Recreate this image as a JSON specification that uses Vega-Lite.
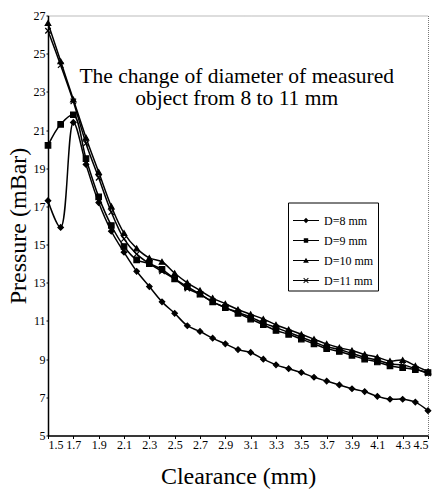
{
  "$schema": "https://vega.github.io/schema/vega-lite/v6.json",
  "width": 380,
  "height": 420,
  "autosize": "none",
  "padding": {"left": 48, "top": 15.5, "right": 12, "bottom": 60.5},
  "background": "white",
  "config": {
    "font": "Liberation Serif",
    "view": {"stroke": "#777", "strokeDash": [1, 1], "strokeWidth": 1}
  },
  "datasets": {
    "curves": [
    {"c":1.5,"p":17.3,"s":"D=8 mm"},{"c":1.6,"p":15.9,"s":"D=8 mm"},{"c":1.7,"p":21.4,"s":"D=8 mm"},{"c":1.8,"p":19.2,"s":"D=8 mm"},{"c":1.9,"p":17.2,"s":"D=8 mm"},{"c":2.0,"p":15.7,"s":"D=8 mm"},{"c":2.1,"p":14.6,"s":"D=8 mm"},{"c":2.2,"p":13.6,"s":"D=8 mm"},{"c":2.3,"p":12.8,"s":"D=8 mm"},{"c":2.4,"p":12.0,"s":"D=8 mm"},{"c":2.5,"p":11.4,"s":"D=8 mm"},{"c":2.6,"p":10.75,"s":"D=8 mm"},{"c":2.7,"p":10.45,"s":"D=8 mm"},{"c":2.8,"p":10.1,"s":"D=8 mm"},{"c":2.9,"p":9.8,"s":"D=8 mm"},{"c":3.0,"p":9.5,"s":"D=8 mm"},{"c":3.1,"p":9.35,"s":"D=8 mm"},{"c":3.2,"p":9.0,"s":"D=8 mm"},{"c":3.3,"p":8.7,"s":"D=8 mm"},{"c":3.4,"p":8.5,"s":"D=8 mm"},{"c":3.5,"p":8.3,"s":"D=8 mm"},{"c":3.6,"p":8.05,"s":"D=8 mm"},{"c":3.7,"p":7.85,"s":"D=8 mm"},{"c":3.8,"p":7.65,"s":"D=8 mm"},{"c":3.9,"p":7.45,"s":"D=8 mm"},{"c":4.0,"p":7.3,"s":"D=8 mm"},{"c":4.1,"p":7.05,"s":"D=8 mm"},{"c":4.2,"p":6.9,"s":"D=8 mm"},{"c":4.3,"p":6.9,"s":"D=8 mm"},{"c":4.4,"p":6.75,"s":"D=8 mm"},{"c":4.5,"p":6.3,"s":"D=8 mm"},
    {"c":1.5,"p":20.2,"s":"D=9 mm"},{"c":1.6,"p":21.3,"s":"D=9 mm"},{"c":1.7,"p":21.8,"s":"D=9 mm"},{"c":1.8,"p":19.5,"s":"D=9 mm"},{"c":1.9,"p":17.5,"s":"D=9 mm"},{"c":2.0,"p":16.0,"s":"D=9 mm"},{"c":2.1,"p":14.9,"s":"D=9 mm"},{"c":2.2,"p":14.2,"s":"D=9 mm"},{"c":2.3,"p":14.0,"s":"D=9 mm"},{"c":2.4,"p":13.7,"s":"D=9 mm"},{"c":2.5,"p":13.2,"s":"D=9 mm"},{"c":2.6,"p":12.8,"s":"D=9 mm"},{"c":2.7,"p":12.4,"s":"D=9 mm"},{"c":2.8,"p":12.0,"s":"D=9 mm"},{"c":2.9,"p":11.7,"s":"D=9 mm"},{"c":3.0,"p":11.4,"s":"D=9 mm"},{"c":3.1,"p":11.1,"s":"D=9 mm"},{"c":3.2,"p":10.8,"s":"D=9 mm"},{"c":3.3,"p":10.5,"s":"D=9 mm"},{"c":3.4,"p":10.3,"s":"D=9 mm"},{"c":3.5,"p":10.05,"s":"D=9 mm"},{"c":3.6,"p":9.8,"s":"D=9 mm"},{"c":3.7,"p":9.55,"s":"D=9 mm"},{"c":3.8,"p":9.4,"s":"D=9 mm"},{"c":3.9,"p":9.2,"s":"D=9 mm"},{"c":4.0,"p":9.0,"s":"D=9 mm"},{"c":4.1,"p":8.85,"s":"D=9 mm"},{"c":4.2,"p":8.65,"s":"D=9 mm"},{"c":4.3,"p":8.55,"s":"D=9 mm"},{"c":4.4,"p":8.45,"s":"D=9 mm"},{"c":4.5,"p":8.3,"s":"D=9 mm"},
    {"c":1.5,"p":26.6,"s":"D=10 mm"},{"c":1.6,"p":24.6,"s":"D=10 mm"},{"c":1.7,"p":22.6,"s":"D=10 mm"},{"c":1.8,"p":20.6,"s":"D=10 mm"},{"c":1.9,"p":18.8,"s":"D=10 mm"},{"c":2.0,"p":17.0,"s":"D=10 mm"},{"c":2.1,"p":15.6,"s":"D=10 mm"},{"c":2.2,"p":14.8,"s":"D=10 mm"},{"c":2.3,"p":14.3,"s":"D=10 mm"},{"c":2.4,"p":14.1,"s":"D=10 mm"},{"c":2.5,"p":13.5,"s":"D=10 mm"},{"c":2.6,"p":13.0,"s":"D=10 mm"},{"c":2.7,"p":12.6,"s":"D=10 mm"},{"c":2.8,"p":12.2,"s":"D=10 mm"},{"c":2.9,"p":11.9,"s":"D=10 mm"},{"c":3.0,"p":11.6,"s":"D=10 mm"},{"c":3.1,"p":11.35,"s":"D=10 mm"},{"c":3.2,"p":11.1,"s":"D=10 mm"},{"c":3.3,"p":10.8,"s":"D=10 mm"},{"c":3.4,"p":10.55,"s":"D=10 mm"},{"c":3.5,"p":10.3,"s":"D=10 mm"},{"c":3.6,"p":10.05,"s":"D=10 mm"},{"c":3.7,"p":9.8,"s":"D=10 mm"},{"c":3.8,"p":9.6,"s":"D=10 mm"},{"c":3.9,"p":9.45,"s":"D=10 mm"},{"c":4.0,"p":9.25,"s":"D=10 mm"},{"c":4.1,"p":9.1,"s":"D=10 mm"},{"c":4.2,"p":8.9,"s":"D=10 mm"},{"c":4.3,"p":8.95,"s":"D=10 mm"},{"c":4.4,"p":8.65,"s":"D=10 mm"},{"c":4.5,"p":8.35,"s":"D=10 mm"},
    {"c":1.5,"p":26.2,"s":"D=11 mm"},{"c":1.6,"p":24.4,"s":"D=11 mm"},{"c":1.7,"p":22.5,"s":"D=11 mm"},{"c":1.8,"p":20.3,"s":"D=11 mm"},{"c":1.9,"p":18.5,"s":"D=11 mm"},{"c":2.0,"p":16.7,"s":"D=11 mm"},{"c":2.1,"p":15.3,"s":"D=11 mm"},{"c":2.2,"p":14.5,"s":"D=11 mm"},{"c":2.3,"p":14.0,"s":"D=11 mm"},{"c":2.4,"p":13.6,"s":"D=11 mm"},{"c":2.5,"p":13.2,"s":"D=11 mm"},{"c":2.6,"p":12.7,"s":"D=11 mm"},{"c":2.7,"p":12.4,"s":"D=11 mm"},{"c":2.8,"p":12.0,"s":"D=11 mm"},{"c":2.9,"p":11.7,"s":"D=11 mm"},{"c":3.0,"p":11.45,"s":"D=11 mm"},{"c":3.1,"p":11.2,"s":"D=11 mm"},{"c":3.2,"p":10.9,"s":"D=11 mm"},{"c":3.3,"p":10.65,"s":"D=11 mm"},{"c":3.4,"p":10.4,"s":"D=11 mm"},{"c":3.5,"p":10.15,"s":"D=11 mm"},{"c":3.6,"p":9.9,"s":"D=11 mm"},{"c":3.7,"p":9.65,"s":"D=11 mm"},{"c":3.8,"p":9.5,"s":"D=11 mm"},{"c":3.9,"p":9.3,"s":"D=11 mm"},{"c":4.0,"p":9.1,"s":"D=11 mm"},{"c":4.1,"p":8.95,"s":"D=11 mm"},{"c":4.2,"p":8.75,"s":"D=11 mm"},{"c":4.3,"p":8.7,"s":"D=11 mm"},{"c":4.4,"p":8.5,"s":"D=11 mm"},{"c":4.5,"p":8.25,"s":"D=11 mm"}
    ]
  },
  "data": {"name": "curves"},
  "encoding": {
    "x": {"field": "c", "type": "quantitative", "title": "Clearance (mm)",
      "scale": {"domain": [1.5, 4.5], "nice": false, "zero": false},
      "axis": {"values": [1.5,1.7,1.9,2.1,2.3,2.5,2.7,2.9,3.1,3.3,3.5,3.7,3.9,4.1,4.3,4.5], "format": ".1f", "grid": false, "labelOverlap": false,
        "domainColor": "black", "domainWidth": 1.5, "tickColor": "black", "tickSize": 3,
        "labelFont": "Liberation Serif", "labelFontSize": 12, "labelColor": "black", "labelPadding": 1,
        "titleFont": "Liberation Serif", "titleFontSize": 24, "titleFontWeight": "normal", "titleColor": "black", "titlePadding": 14}},
    "y": {"field": "p", "type": "quantitative", "title": "Pressure (mBar)",
      "scale": {"domain": [5, 27], "nice": false, "zero": false},
      "axis": {"values": [5,7,9,11,13,15,17,19,21,23,25,27], "grid": false, "labelOverlap": false,
        "domainColor": "black", "domainWidth": 1.5, "tickColor": "black", "tickSize": 2,
        "labelFont": "Liberation Serif", "labelFontSize": 12, "labelColor": "black", "labelPadding": 1,
        "titleFont": "Liberation Serif", "titleFontSize": 24, "titleFontWeight": "normal", "titleColor": "black", "titlePadding": 3}}
  },
  "resolve": {"scale": {"shape": "independent"}, "legend": {"shape": "independent"}},
  "layer": [
    {
      "mark": {"type": "line", "color": "black", "strokeWidth": 1.5, "interpolate": "catmull-rom"},
      "encoding": {"detail": {"field": "s"}}
    },
    {
      "mark": {"type": "point", "filled": true, "color": "black", "stroke": "black", "strokeWidth": 1.2, "size": 30, "opacity": 1},
      "encoding": {
        "shape": {"field": "s", "type": "nominal",
          "scale": {"domain": ["D=8 mm", "D=9 mm", "D=10 mm", "D=11 mm"],
                    "range": ["diamond", "square", "triangle-up", "M-1,-1L1,1M-1,1L1,-1"]},
          "legend": null}
      }
    },
    {
      "mark": {"type": "point", "filled": true, "color": "black", "opacity": 0},
      "encoding": {
        "shape": {"field": "s", "type": "nominal",
          "scale": {"domain": ["D=8 mm", "D=9 mm", "D=10 mm", "D=11 mm"],
                    "range": [
                      "M-1,-0.045L1,-0.045L1,0.045L-1,0.045Z M0,-0.22L0.2,0L0,0.22L-0.2,0Z",
                      "M-1,-0.045L1,-0.045L1,0.045L-1,0.045Z M-0.17,-0.17L0.17,-0.17L0.17,0.17L-0.17,0.17Z",
                      "M-1,-0.045L1,-0.045L1,0.045L-1,0.045Z M0,-0.22L0.22,0.17L-0.22,0.17Z",
                      "M-1,-0.045L1,-0.045L1,0.045L-1,0.045Z M-0.155,-0.205L0.205,0.155L0.155,0.205L-0.205,-0.155Z M-0.155,0.205L-0.205,0.155L0.155,-0.205L0.205,-0.155Z"]},
          "legend": {"title": null, "orient": "none", "legendX": 240, "legendY": 187,
            "strokeColor": "black", "fillColor": "white", "padding": 4,
            "labelFont": "Liberation Serif", "labelFontSize": 12, "labelColor": "black",
            "symbolSize": 676, "symbolOpacity": 1, "symbolFillColor": "black",
            "rowPadding": 0, "labelOffset": 4}
        }
      }
    },
    {
      "transform": [{"filter": "datum.c === 1.5 && datum.s === 'D=8 mm'"}],
      "mark": {"type": "text", "font": "Liberation Serif", "fontSize": 21.5, "color": "black", "align": "center", "baseline": "alphabetic", "lineHeight": 22},
      "encoding": {
        "x": {"datum": 2.99},
        "y": {"datum": 23.45},
        "text": {"value": ["The change of diameter of measured", "object from 8 to 11 mm"]}
      }
    }
  ]
}
